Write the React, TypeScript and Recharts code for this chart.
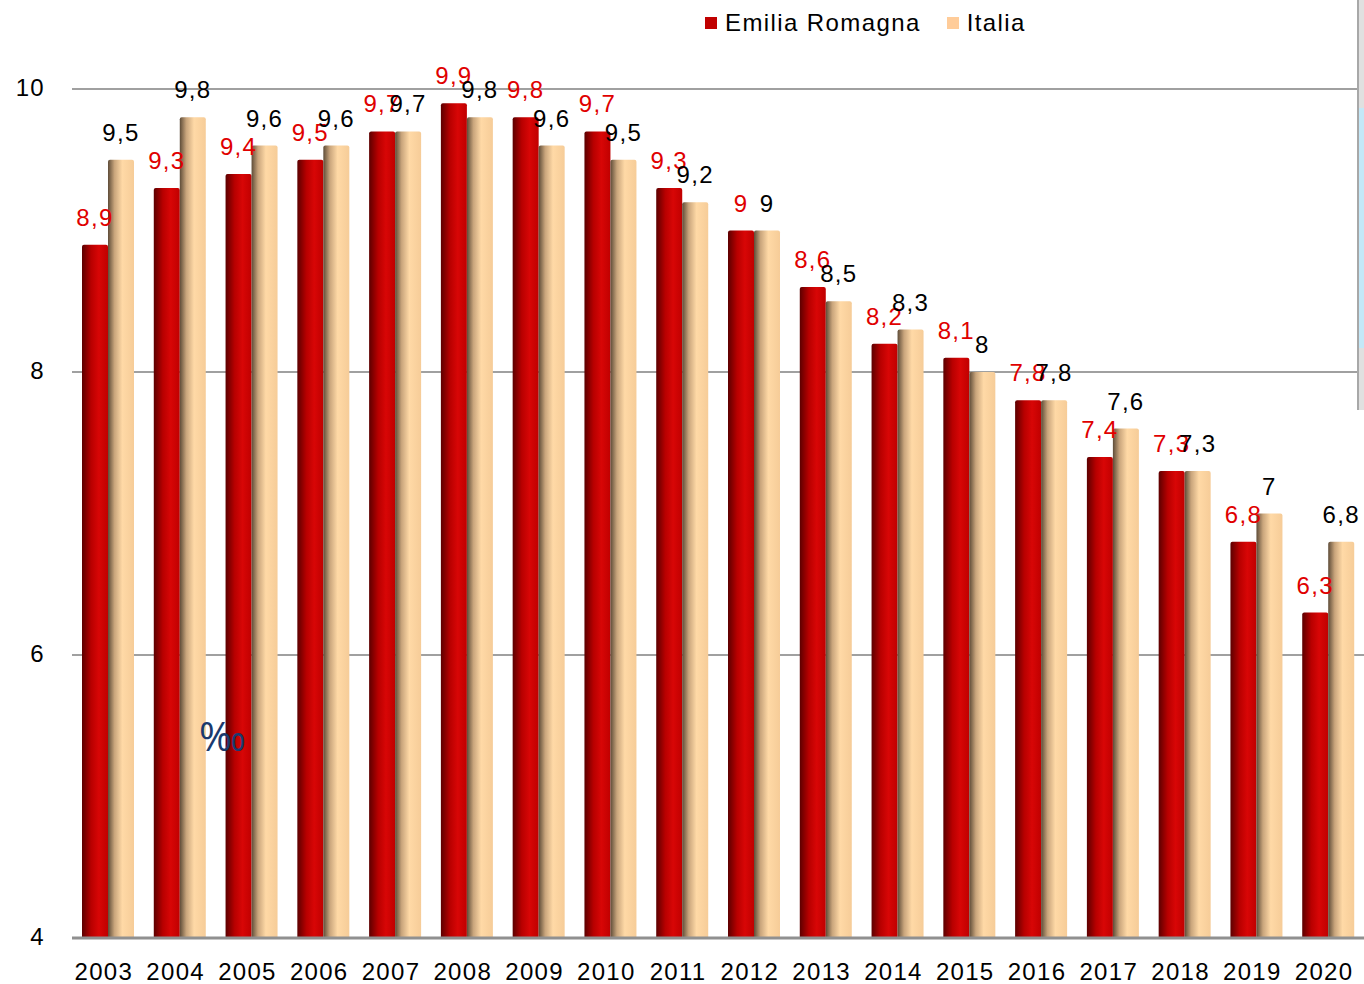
import { BarChart, Bar, XAxis, YAxis, CartesianGrid, LabelList } from "recharts";

const years = [
  "2003", "2004", "2005", "2006", "2007", "2008", "2009", "2010", "2011",
  "2012", "2013", "2014", "2015", "2016", "2017", "2018", "2019", "2020",
];
const emiliaRomagna = [8.9, 9.3, 9.4, 9.5, 9.7, 9.9, 9.8, 9.7, 9.3, 9, 8.6, 8.2, 8.1, 7.8, 7.4, 7.3, 6.8, 6.3];
const italia = [9.5, 9.8, 9.6, 9.6, 9.7, 9.8, 9.6, 9.5, 9.2, 9, 8.5, 8.3, 8, 7.8, 7.6, 7.3, 7, 6.8];
const yTicks = [4, 6, 8, 10];

const data = years.map((year, i) => ({
  year,
  er: emiliaRomagna[i],
  it: italia[i],
}));

const fmt = (v: any) => String(v).replace(".", ",");
const font = '"Liberation Sans", Arial, sans-serif';
const textStyle = { fontSize: 24, fontFamily: font, letterSpacing: 1.3 };

export default function App() {
  return (
    <div style={{ position: "absolute", left: 0, top: 0, width: 1364, height: 984, background: "#fff", fontFamily: font }}>
      <BarChart
        width={1364}
        height={984}
        data={data}
        margin={{ top: 89, right: 0, bottom: 0, left: 0 }}
        barCategoryGap="14%"
        barGap={0}
      >
        <defs>
          <linearGradient id="redGrad" x1="0" y1="0" x2="1" y2="0">
            <stop offset="0%" stopColor="#5c0000" />
            <stop offset="35%" stopColor="#b80000" />
            <stop offset="65%" stopColor="#d80606" />
            <stop offset="100%" stopColor="#c00000" />
          </linearGradient>
          <linearGradient id="peachGrad" x1="0" y1="0" x2="1" y2="0">
            <stop offset="0%" stopColor="#5e4c38" />
            <stop offset="25%" stopColor="#c9a57c" />
            <stop offset="55%" stopColor="#ffd9a6" />
            <stop offset="100%" stopColor="#f6cc98" />
          </linearGradient>
        </defs>
        <CartesianGrid horizontal vertical={false} stroke="#a0a0a0" strokeWidth={2} />
        <XAxis
          dataKey="year"
          height={46}
          axisLine={{ stroke: "#909090", strokeWidth: 3 }}
          tickLine={false}
          tickSize={0}
          tickMargin={25}
          interval={0}
          tick={{ ...textStyle, fill: "#000", dx: -4 }}
        />
        <YAxis
          width={72}
          domain={[4, 10]}
          ticks={yTicks}
          axisLine={false}
          tickLine={false}
          tickSize={0}
          tickMargin={27}
          tick={{ ...textStyle, fill: "#000", dy: -2 }}
        />
        <Bar dataKey="er" fill="url(#redGrad)" barSize={26} isAnimationActive={false} radius={[2, 2, 0, 0]}>
          <LabelList
            dataKey="er"
            position="top"
            offset={19}
            formatter={fmt}
            style={{ ...textStyle, fill: "#e00000" }}
          />
        </Bar>
        <Bar dataKey="it" fill="url(#peachGrad)" barSize={26} isAnimationActive={false} radius={[2, 2, 0, 0]}>
          <LabelList
            dataKey="it"
            position="top"
            offset={19}
            formatter={fmt}
            style={{ ...textStyle, fill: "#000" }}
          />
        </Bar>
      </BarChart>

      {/* legend */}
      <div style={{ position: "absolute", left: 705, top: 9, display: "flex", alignItems: "center", fontSize: 24, letterSpacing: 1.4, color: "#000" }}>
        <span style={{ width: 12, height: 12, background: "#c00000", display: "inline-block", marginRight: 8 }} />
        <span>Emilia Romagna</span>
        <span style={{ width: 12, height: 12, background: "#ffcc99", display: "inline-block", marginLeft: 26, marginRight: 8 }} />
        <span>Italia</span>
      </div>

      {/* per mille sign */}
      <div style={{ position: "absolute", left: 199, top: 708, fontSize: 40, color: "#1a3a6e", fontFamily: '"Open Sans", sans-serif' }}>
        ‰
      </div>

      {/* cropped edge on the right */}
      <div style={{ position: "absolute", left: 1357, top: 0, width: 7, height: 410, background: "#e0e0e0", borderLeft: "2px solid #a8a8a8", boxSizing: "border-box" }} />
      <div style={{ position: "absolute", left: 1359, top: 108, width: 5, height: 240, background: "#c4e8f8" }} />
    </div>
  );
}
